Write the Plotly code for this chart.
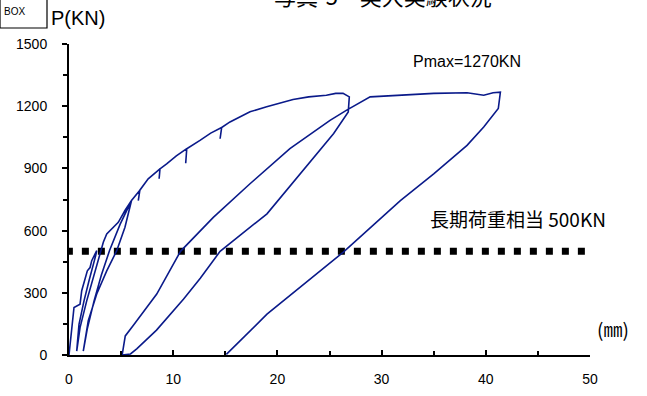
import plotly.graph_objects as go

# --- data (displacement mm, load kN) ---
c1_x = [0, 0.19, 0.48, 1.06, 1.22, 1.76, 2.02, 2.18, 2.5, 2.66]
c1_y = [0, 84, 229, 245, 310, 406, 422, 455, 487, 503]
u1_x = [2.66, 2.56, 2.24, 1.92, 1.44, 0.96, 0.74]
u1_y = [503, 479, 422, 358, 261, 148, 19]
r1_x = [0.74, 1.06, 1.7, 2.33, 2.98, 3.3, 3.62, 3.93, 4.73, 5.37, 6.0]
r1_y = [19, 132, 261, 374, 487, 545, 584, 600, 640, 697, 745]
u2_x = [6.0, 5.37, 4.58, 3.62, 2.66, 1.85, 1.37]
u2_y = [745, 616, 503, 406, 294, 165, 19]
r2_x = [1.37, 1.75, 2.4, 3.1, 3.9, 4.9, 6.0]
r2_y = [19, 125, 260, 385, 505, 630, 745]
env_x = [6.0, 6.4, 6.8, 6.65, 6.8, 7.6, 8.73, 8.65, 8.73, 9.37, 10.3, 11.3, 11.2, 11.3,
         12.57, 13.6, 14.65, 14.5, 14.65, 15.45, 17.37, 18.97, 21.5, 23.0, 24.7, 25.6, 26.3, 26.9]
env_y = [745, 770, 795, 745, 795, 850, 898, 850, 898, 922, 960, 995, 925, 995,
         1035, 1070, 1097, 1043, 1097, 1124, 1173, 1197, 1232, 1245, 1253, 1262, 1262, 1245]
u3_x = [26.9, 26.8, 25.4, 22.2, 19.0, 14.5, 12.6, 11.0, 8.4, 6.5, 5.9, 5.1]
u3_y = [1245, 1172, 1068, 874, 681, 500, 370, 270, 120, 30, 5, 0]
r3_x = [5.1, 5.2, 5.4, 6.2, 8.42, 10.7, 13.85, 17.37, 21.2, 25.05, 26.65, 28.9, 31.8,
        35.0, 38.2, 39.8, 40.7, 41.4]
r3_y = [0, 40, 92, 145, 294, 500, 664, 826, 995, 1132, 1181, 1245, 1253,
        1262, 1265, 1253, 1265, 1268]
u4_x = [41.4, 41.2, 39.8, 38.2, 35.0, 31.8, 26.3, 19.0, 15.1]
u4_y = [1268, 1189, 1100, 1011, 874, 745, 495, 197, 3]

segments_x = [c1_x, u1_x, r1_x, u2_x, r2_x, env_x, u3_x, r3_x, u4_x]
segments_y = [c1_y, u1_y, r1_y, u2_y, r2_y, env_y, u3_y, r3_y, u4_y]
curve_x = list(segments_x[0])
curve_y = list(segments_y[0])
for sx, sy in zip(segments_x[1:], segments_y[1:]):
    curve_x += sx[1:]
    curve_y += sy[1:]

long_term_x = [-0.3, 49.8]
long_term_y = [500, 500]

x_ticks = [0, 10, 20, 30, 40, 50]
y_ticks = [0, 300, 600, 900, 1200, 1500]

SANS = "Liberation Sans, Arial, sans-serif"
CJK = "Noto Sans CJK JP"

W, H = 647, 396
L, R, T, B = 69, 57, 44, 41
PW, PH = W - L - R, H - T - B


def px2paper(px, py):
    return (px - L) / PW, (H - B - py) / PH


fig = go.Figure()
fig.add_trace(go.Scatter(x=long_term_x, y=long_term_y, mode="lines",
                         line=dict(color="black", width=7, dash="7px,9px"),
                         showlegend=False, hoverinfo="skip"))
fig.add_trace(go.Scatter(x=curve_x, y=curve_y, mode="lines",
                         line=dict(color="#0a1a8a", width=1.6),
                         showlegend=False))

fig.update_layout(
    width=W, height=H,
    margin=dict(l=L, r=R, t=T, b=B, autoexpand=False),
    paper_bgcolor="white", plot_bgcolor="white",
    font=dict(family=SANS, size=14, color="black"),
    xaxis=dict(range=[0, 50], tickvals=x_ticks, showgrid=False, zeroline=False,
               showline=True, linecolor="black", linewidth=2,
               ticks="inside", ticklen=5, tickwidth=2, tickcolor="black",
               minor=dict(dtick=5, ticks="inside", ticklen=4, tickwidth=1.5, tickcolor="black"),
               tickfont=dict(size=14), ticklabelstandoff=10, fixedrange=True),
    yaxis=dict(range=[0, 1500], tickvals=y_ticks, showgrid=False, zeroline=False,
               showline=True, linecolor="black", linewidth=2,
               ticks="outside", ticklen=5, tickwidth=2, tickcolor="black",
               minor=dict(dtick=150, ticks="outside", ticklen=4, tickwidth=1.5, tickcolor="black"),
               tickfont=dict(size=14), ticklabelstandoff=12, fixedrange=True),
)

texts = [
    # text, px, py, family, size, anchor
    ("P(KN)", 49, 18, SANS, 20, "left"),
    ("BOX", 2, 12, SANS, 10, "left"),
    ("Pmax=1270KN", 411, 61, SANS, 16, "left"),
    ("長期荷重相当 500KN", 428, 219, CJK, 19, "left"),
    ("(㎜)", 595, 328, CJK, 19, "left"),
]
annotations = []
for t, px, py, fam, size, anc in texts:
    x, y = px2paper(px, py)
    annotations.append(dict(text=t, x=x, y=y, xref="paper", yref="paper",
                            xanchor=anc, yanchor="middle", showarrow=False,
                            font=dict(family=fam, size=size, color="black")))
tx, ty = px2paper(383, 44)
annotations.append(dict(text="写真-5　実大実験状況", x=tx, y=ty, xref="paper", yref="paper",
                        xanchor="center", yanchor="bottom", yshift=31, showarrow=False,
                        font=dict(family=CJK, size=22, color="black")))
fig.update_layout(annotations=annotations)

bx0, by0 = px2paper(0, 28)
bx1, by1 = px2paper(47, -2)
fig.add_shape(type="rect", xref="paper", yref="paper",
              x0=bx0, x1=bx1, y0=by0, y1=by1,
              line=dict(color="black", width=1.2), fillcolor="rgba(0,0,0,0)")

fig.write_html("out.html", config={"displayModeBar": False},
               post_script="document.body.style.margin='0';document.body.style.padding='0';")
